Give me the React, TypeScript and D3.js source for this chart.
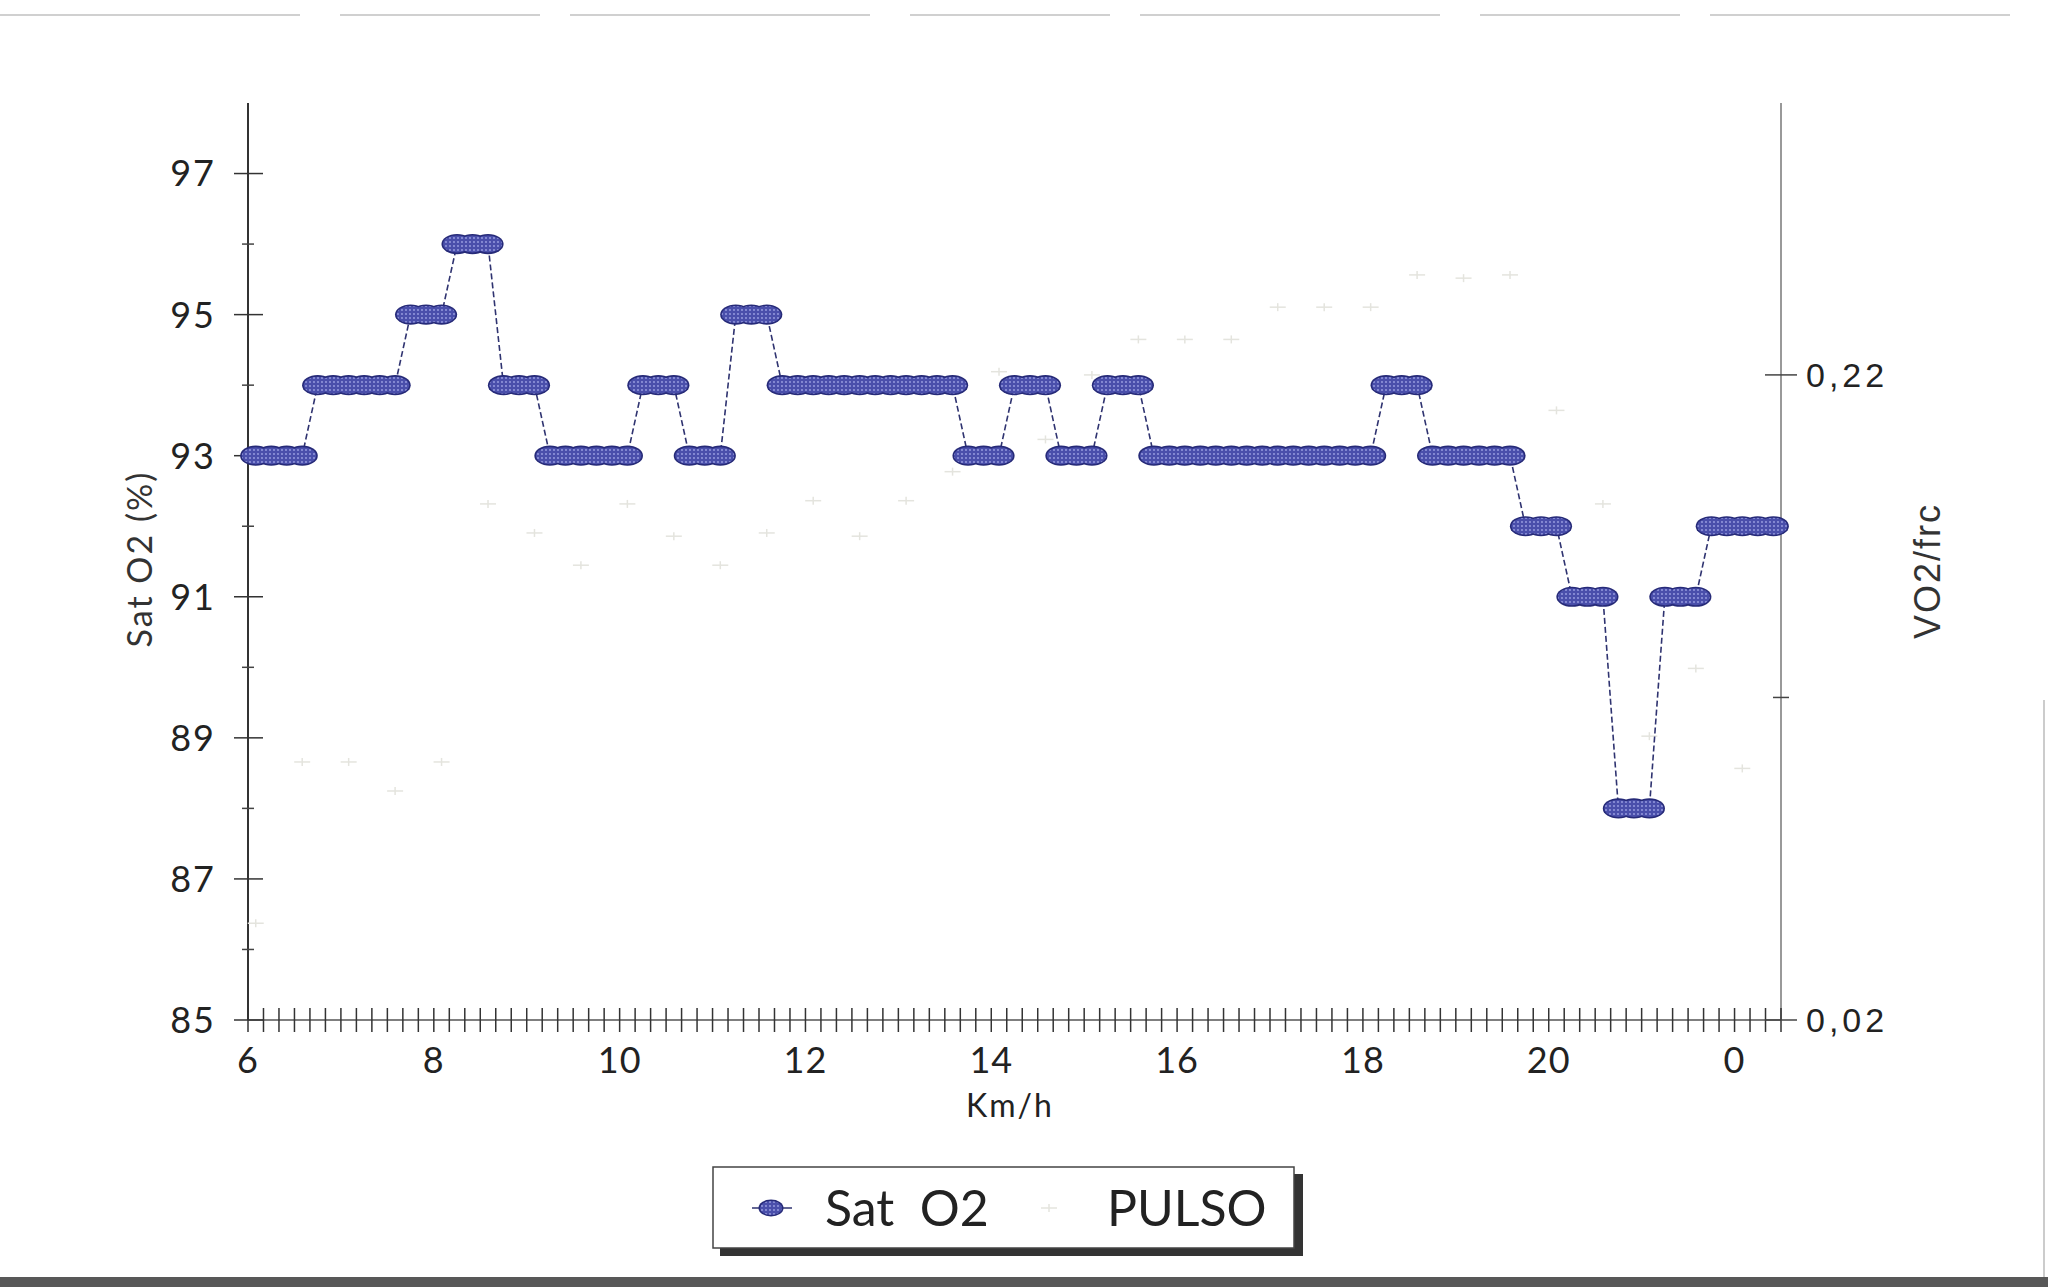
import React from "react";
import * as d3 from "d3";

const W = 2048;
const H = 1287;

// Sat O2 (%) one value per category (99 categories)
const satO2 = [
  93, 93, 93, 93,
  94, 94, 94, 94, 94, 94,
  95, 95, 95,
  96, 96, 96,
  94, 94, 94,
  93, 93, 93, 93, 93, 93,
  94, 94, 94,
  93, 93, 93,
  95, 95, 95,
  94, 94, 94, 94, 94, 94, 94, 94, 94, 94, 94, 94,
  93, 93, 93,
  94, 94, 94,
  93, 93, 93,
  94, 94, 94,
  93, 93, 93, 93, 93, 93, 93, 93, 93, 93, 93, 93, 93, 93, 93,
  94, 94, 94,
  93, 93, 93, 93, 93, 93,
  92, 92, 92,
  91, 91, 91,
  88, 88, 88,
  91, 91, 91,
  92, 92, 92, 92, 92,
];

// PULSO (faint series, right axis) – category index and value
const pulsoIdx = [0, 3, 6, 9, 12, 15, 18, 21, 24, 27, 30, 33, 36, 39, 42, 45, 48, 51, 54, 57, 60, 63, 66, 69, 72, 75, 78, 81, 84, 87, 90, 93, 96];
const pulsoVal = [0.05, 0.1, 0.1, 0.091, 0.1, 0.18, 0.171, 0.161, 0.18, 0.17, 0.161, 0.171, 0.181, 0.17, 0.181, 0.19, 0.221, 0.2, 0.22, 0.231, 0.231, 0.231, 0.241, 0.241, 0.241, 0.251, 0.25, 0.251, 0.209, 0.18, 0.108, 0.129, 0.098];

const xLabelIdx = [0, 12, 24, 36, 48, 60, 72, 84, 96];
const xLabels = ["6", "8", "10", "12", "14", "16", "18", "20", "0"];
const leftMajor = [85, 87, 89, 91, 93, 95, 97];
const leftMinor = [86, 88, 90, 92, 94, 96];
const rightTicks = [0.02, 0.12, 0.22];
const rightLabelVals = [0.02, 0.22];

const PL = 248, PR = 1781, PT = 103, PB = 1020;

export default function App() {
  const n = satO2.length;
  const x = d3.scalePoint<number>().domain(d3.range(n)).range([PL, PR]).padding(0.5);
  const step = x.step();
  const yL = d3.scaleLinear().domain([85, 98]).range([PB, PT]);
  const yR = d3.scaleLinear().domain([0.02, 0.3043]).range([PB, PT]);
  const line = d3.line<number>().x((_, i) => x(i) as number).y((d) => yL(d));
  const boundaries = d3.range(n + 1).map((k) => (x(0) as number) - step / 2 + k * step);
  const fmtR = (v: number) => d3.format(".2f")(v).replace(".", ",");
  const humanist = "Lato, 'Open Sans', sans-serif";
  const RX = 14, RY = 8.5;

  return (
    <svg width={W} height={H} style={{ position: "absolute", left: 0, top: 0, background: "#fff" }}>
      <defs>
        <pattern id="dots" width="4" height="4" patternUnits="userSpaceOnUse">
          <rect width="4" height="4" fill="#4a4fab" />
          <circle cx="2" cy="2" r="0.9" fill="#9ea3e4" />
        </pattern>
        <linearGradient id="topg" x1="0" x2="1" y1="0" y2="0">
          <stop offset="0" stopColor="#222" />
          <stop offset="1" stopColor="#999" />
        </linearGradient>
      </defs>
      <rect width={W} height={H} fill="#fff" />

      {/* scan artifacts */}
      <line x1={0} x2={2040} y1={15} y2={15} stroke="#d0d0d0" strokeWidth={2} strokeDasharray="300 40 200 30" />
      <rect x={0} y={1277} width={W} height={10} fill="#585858" />
      <line x1={2044} x2={2044} y1={700} y2={1277} stroke="#bbb" strokeWidth={1.5} />

      {/* frame */}
      <line x1={PL} x2={PR + 4} y1={PT} y2={PT} stroke="url(#topg)" strokeWidth={2} />
      <line x1={PR} x2={PR} y1={PT} y2={PB} stroke="#777" strokeWidth={1.5} />
      <line x1={PL} x2={PL} y1={PT} y2={PB} stroke="#333" strokeWidth={2} />
      <line x1={PL} x2={PR} y1={PB} y2={PB} stroke="#555" strokeWidth={1.5} />

      {/* left ticks */}
      {leftMajor.map((v) => (
        <g key={"lm" + v}>
          <line x1={PL - 14} x2={PL + 15} y1={yL(v)} y2={yL(v)} stroke="#333" strokeWidth={1.5} />
          <text x={216} y={yL(v)} dy="0.36em" textAnchor="end" fontFamily={humanist} fontSize={36} letterSpacing={2} fill="#222">
            {v}
          </text>
        </g>
      ))}
      {leftMinor.map((v) => (
        <line key={"ln" + v} x1={PL - 6} x2={PL + 6} y1={yL(v)} y2={yL(v)} stroke="#444" strokeWidth={1.5} />
      ))}

      {/* x ticks */}
      {boundaries.map((bx, k) => (
        <line key={"xt" + k} x1={bx} x2={bx} y1={PB - 12} y2={PB + 12} stroke="#333" strokeWidth={1.5} />
      ))}
      {xLabelIdx.map((idx, k) => (
        <text key={"xl" + k} x={(x(idx) as number) - step / 2} y={1073} textAnchor="middle" fontFamily={humanist} fontSize={36} letterSpacing={1} fill="#222">
          {xLabels[k]}
        </text>
      ))}
      <text x={1010} y={1117} textAnchor="middle" fontFamily={humanist} fontSize={32} letterSpacing={2} fill="#222">
        Km/h
      </text>

      {/* right ticks */}
      {rightTicks.map((v, k) => (
        <line key={"rt" + k} x1={PR - (k === 1 ? 8 : 16)} x2={PR + (k === 1 ? 8 : 16)} y1={yR(v)} y2={yR(v)} stroke="#444" strokeWidth={1.5} />
      ))}
      {rightLabelVals.map((v) => (
        <text key={"rl" + v} x={1806} y={yR(v)} dy="0.36em" fontFamily="'Liberation Sans', Arial, sans-serif" fontSize={34} letterSpacing={4} fill="#222">
          {fmtR(v)}
        </text>
      ))}

      {/* axis titles */}
      <text transform="translate(152,559) rotate(-90)" textAnchor="middle" fontFamily={humanist} fontSize={34} letterSpacing={2} fill="#333">
        Sat O2 (%)
      </text>
      <text transform="translate(1940,571) rotate(-90)" textAnchor="middle" fontFamily="'Liberation Sans', Arial, sans-serif" fontSize={36} letterSpacing={2} fill="#333">
        VO2/frc
      </text>

      {/* PULSO faint markers */}
      {pulsoIdx.map((idx, k) => {
        const cx = x(idx) as number;
        const cy = yR(pulsoVal[k]);
        return (
          <g key={"p" + k} stroke="#e4e4de" strokeWidth={1.5}>
            <line x1={cx - 8} x2={cx + 8} y1={cy} y2={cy} />
            <line x1={cx} x2={cx} y1={cy - 4} y2={cy + 4} />
          </g>
        );
      })}

      {/* Sat O2 line + markers */}
      <path d={line(satO2) || ""} fill="none" stroke="#2f3370" strokeWidth={1.6} strokeDasharray="6 3" />
      {satO2.map((v, i) => (
        <ellipse key={"mo" + i} cx={x(i) as number} cy={yL(v)} rx={RX + 1.6} ry={RY + 1.6} fill="#262a78" />
      ))}
      {satO2.map((v, i) => (
        <ellipse key={"mi" + i} cx={x(i) as number} cy={yL(v)} rx={RX} ry={RY} fill="url(#dots)" />
      ))}

      {/* legend */}
      <rect x={720} y={1174} width={583} height={82} fill="#333" />
      <rect x={713} y={1167} width={581} height={81} fill="#fff" stroke="#444" strokeWidth={1.5} />
      <line x1={752} x2={792} y1={1208} y2={1208} stroke="#2f3370" strokeWidth={1.5} />
      <ellipse cx={771} cy={1208} rx={12.5} ry={8.5} fill="#262a78" />
      <ellipse cx={771} cy={1208} rx={11} ry={7} fill="url(#dots)" />
      <text x={825} y={1226} fontFamily={humanist} fontSize={50} fill="#222" style={{ whiteSpace: "pre" }}>
        {"Sat  O2"}
      </text>
      <g stroke="#e4e4de" strokeWidth={1.5}>
        <line x1={1041} x2={1057} y1={1208} y2={1208} />
        <line x1={1049} x2={1049} y1={1204} y2={1212} />
      </g>
      <text x={1107} y={1226} fontFamily={humanist} fontSize={50} fill="#222">
        PULSO
      </text>
    </svg>
  );
}
